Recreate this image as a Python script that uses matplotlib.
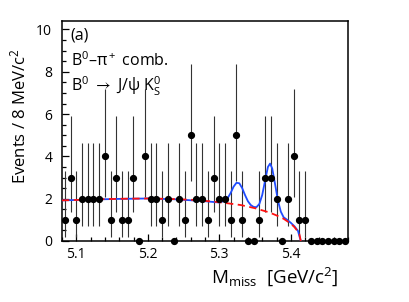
import math

import matplotlib
matplotlib.use("Agg")
import matplotlib.pyplot as plt
from matplotlib.ticker import MultipleLocator
import numpy as np

# binning: 50 bins of 8 MeV from 5.08 to 5.48 GeV/c^2
bin_lo, bin_hi, n_bins = 5.08, 5.48, 50

counts = [1, 3, 1, 2, 2, 2, 2, 4, 1, 3,
          1, 1, 3, 0, 4, 2, 2, 1, 2, 0,
          2, 1, 5, 2, 2, 1, 3, 2, 2, 1,
          5, 1, 0, 0, 1, 3, 3, 2, 0, 2,
          4, 1, 1, 0, 0, 0, 0, 0, 0, 0]

# background (red dashed)
bkg_m = [5.08, 5.11, 5.14, 5.17, 5.20, 5.23, 5.26, 5.29, 5.31, 5.33,
         5.35, 5.37, 5.38, 5.39, 5.40, 5.405, 5.41, 5.412, 5.414]
bkg_y = [1.92, 1.95, 1.98, 2.00, 2.01, 1.99, 1.95, 1.87, 1.79, 1.70,
         1.55, 1.35, 1.21, 1.05, 0.82, 0.66, 0.45, 0.33, 0.0]

# total fit (blue)
tot_m = [5.08, 5.12, 5.16, 5.20, 5.24, 5.28, 5.30, 5.308, 5.312, 5.316,
         5.320, 5.324, 5.328, 5.332, 5.336, 5.340, 5.344, 5.348, 5.352, 5.356,
         5.360, 5.364, 5.368, 5.371, 5.374, 5.378, 5.382, 5.386, 5.390, 5.395,
         5.400, 5.405, 5.410, 5.414]
tot_y = [1.92, 1.96, 1.99, 2.01, 1.97, 1.88, 1.82, 1.90, 2.04, 2.28,
         2.57, 2.75, 2.73, 2.50, 2.17, 1.88, 1.70, 1.61, 1.60, 1.75,
         2.17, 2.85, 3.50, 3.66, 3.43, 2.69, 1.91, 1.39, 1.12, 1.00,
         0.86, 0.70, 0.48, 0.0]


def poisson_cdf(k: int, mu: float) -> float:
    return sum(math.exp(-mu) * mu**j / math.factorial(j) for j in range(k + 1))


def bisect(f, lo: float, hi: float) -> float:
    for _ in range(80):
        mid = 0.5 * (lo + hi)
        if f(lo) * f(mid) <= 0:
            hi = mid
        else:
            lo = mid
    return 0.5 * (lo + hi)


def garwood(n: int, cl: float = 0.6827) -> tuple[float, float]:
    a = (1 - cl) / 2
    lo = bisect(lambda mu: 1 - poisson_cdf(n - 1, mu) - a, 1e-9, n + 20) if n > 0 else 0.0
    hi = bisect(lambda mu: poisson_cdf(n, mu) - a, 1e-9, n + 20)
    return n - lo, hi - n


plt.rcParams["font.family"] = ["Open Sans", "DejaVu Sans"]
plt.rcParams["mathtext.fontset"] = "custom"
plt.rcParams["mathtext.rm"] = "Open Sans"
plt.rcParams["mathtext.it"] = "Open Sans:italic"
plt.rcParams["mathtext.fallback"] = "stix"

fig = plt.figure(figsize=(4.09, 3.02), dpi=100)
ax = fig.add_axes([62 / 409, 61 / 302, 286 / 409, 220 / 302])

edges = np.linspace(bin_lo, bin_hi, n_bins + 1)
centers = 0.5 * (edges[:-1] + edges[1:])
n = np.array(counts)
nz = n > 0
errs = np.array([garwood(int(k)) for k in n[nz]]).T

ax.errorbar(centers[nz], n[nz], yerr=errs, fmt="none", ecolor="#333333",
            elinewidth=0.8, capsize=0, zorder=2)
ax.plot(centers, n, "o", color="black", ms=4.2, zorder=4, clip_on=False)

ax.plot(tot_m, tot_y, color="#1f4cff", lw=1.3, zorder=3)
ax.plot(bkg_m, bkg_y, color="#ff1010", lw=1.3, ls=(0, (4, 2.5)), zorder=3)

ax.set_xlim(bin_lo, bin_hi)
ax.set_ylim(0, 10.4)
ax.xaxis.set_major_locator(MultipleLocator(0.1))
ax.xaxis.set_minor_locator(MultipleLocator(0.02))
ax.yaxis.set_major_locator(MultipleLocator(2))
ax.yaxis.set_minor_locator(MultipleLocator(0.5))
ax.tick_params(which="both", direction="in", top=False, right=False,
               width=0.9, labelsize=10)
ax.tick_params(which="major", length=5)
ax.tick_params(which="minor", length=2.6)
ax.tick_params(axis="y", pad=7)
ax.tick_params(axis="x", pad=4)
for s in ax.spines.values():
    s.set_linewidth(1.1)

ax.text(0.03, 0.97, "(a)", transform=ax.transAxes, fontsize=11.5,
        va="top", ha="left")
ax.text(0.03, 0.86, r"B$^0$–π$^+$ comb.", transform=ax.transAxes,
        fontsize=11.5, va="top", ha="left")
ax.text(0.03, 0.755, r"B$^0$ $\rightarrow$ J/ψ K$^0_\mathrm{S}$",
        transform=ax.transAxes, fontsize=11.5, va="top", ha="left")

fig.text(19 / 409, 1 - 116 / 302, r"Events / 8 MeV/c$^2$", rotation=90,
         ha="center", va="center", fontsize=12)
fig.text(338 / 409, 1 - 277 / 302, r"M$_\mathrm{miss}$  [GeV/c$^2$]",
         ha="right", va="center", fontsize=13.5)

fig.savefig("out.png", dpi=100)
